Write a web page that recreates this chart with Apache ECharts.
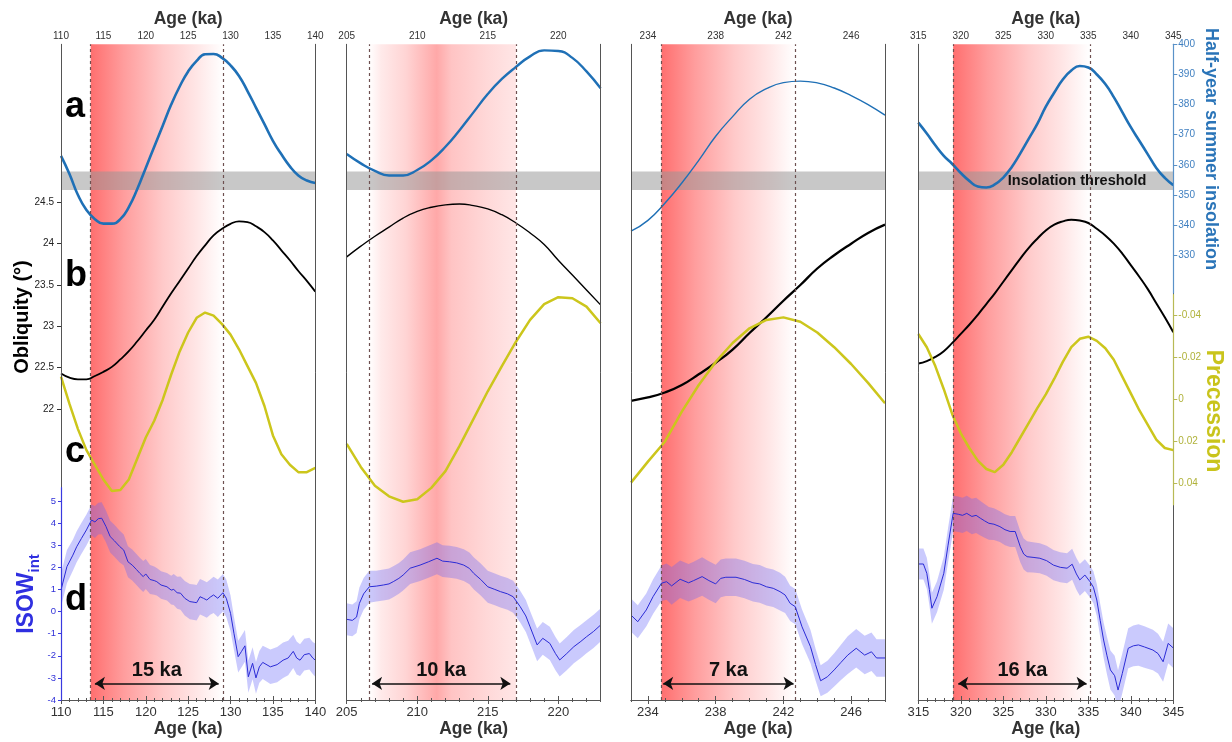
<!DOCTYPE html>
<html><head><meta charset="utf-8">
<script src="https://cdn.jsdelivr.net/npm/echarts@6/dist/echarts.min.js"></script>
<style>html,body{margin:0;padding:0;background:#fff}#c{width:1232px;height:742px}</style>
</head><body><div id="c"></div>
<script>
// ---------------- DATA ----------------
const ageRanges = [[110,140],[205,223],[233,248],[315,345]];
const ageTickLabels = [[110,115,120,125,130,135,140],[205,210,215,220],[234,238,242,246],[315,320,325,330,335,340,345]];

// orbital curves (ages in ka)
const orbAges1 = [110,111,112,113,114,115,116,117,118,119,120,121,122,123,124,125,126,127,128,129,130,131,132,133,134,135,136,137,138,139,140];
const insol1 = [363,357,350,345,342,340.5,340.5,342,346,352,359,366,373,380,386,391,394.5,396.7,396.8,395.5,393,389.5,384.5,379,373.5,368,363.5,359.5,356.5,354.8,354];
const obliq1 = [22.43,22.38,22.36,22.36,22.40,22.45,22.51,22.6,22.7,22.82,22.95,23.08,23.24,23.4,23.55,23.7,23.85,23.98,24.1,24.18,24.24,24.27,24.26,24.21,24.14,24.04,23.92,23.8,23.67,23.55,23.42];
const prec1 = [-0.011,0.002,0.014,0.024,0.031,0.038,0.0435,0.043,0.038,0.028,0.018,0.010,0.000,-0.012,-0.023,-0.032,-0.039,-0.0415,-0.040,-0.036,-0.031,-0.024,-0.016,-0.008,0.003,0.017,0.026,0.031,0.0345,0.0345,0.0325];

const orbAges2 = [205,206,207,208,209,210,211,212,213,214,215,216,217,218,219,220,221,222,223];
const insol2 = [363.6,360.5,358,356.5,356.5,358.3,361.5,366,371.5,377.5,383.5,388.5,392.5,396,398,397.8,395.5,391,385.4];
const obliq2 = [23.84,23.97,24.09,24.2,24.31,24.39,24.44,24.47,24.48,24.46,24.42,24.35,24.25,24.13,23.99,23.8,23.62,23.44,23.26];
const prec2 = [0.021,0.032,0.041,0.046,0.0486,0.0474,0.042,0.034,0.022,0.009,-0.004,-0.016,-0.0276,-0.038,-0.0455,-0.0488,-0.0483,-0.0443,-0.0364];

const orbAges3 = [233,234,235,236,237,238,239,240,241,242,243,244,245,246,247,248];
const insol3 = [338,341.6,347.3,354,361.5,369.5,376,381.8,385.3,387.3,387.8,387.2,385.5,383,380,376.5];
const obliq3 = [22.1,22.14,22.2,22.29,22.42,22.56,22.72,22.92,23.11,23.31,23.5,23.7,23.86,24.0,24.13,24.23];
const prec3 = [0.0395,0.0295,0.020,0.0057,-0.007,-0.018,-0.027,-0.034,-0.038,-0.0392,-0.0371,-0.032,-0.025,-0.017,-0.008,0.0017];

const orbAges4 = [315,316,317,318,319,320,321,322,323,324,325,326,327,328,329,330,331,332,333,334,335,336,337,338,339,340,341,342,343,344,345];
const insol4 = [374,370.4,366.5,363,360.3,357.3,354.7,352.8,352.5,353.5,355.8,359.3,363.8,368.7,373.6,379.3,384,388.3,391.3,392.8,392.3,390,386.8,382.5,377.5,372.5,368,363.5,359,355.7,353.3];
const obliq4 = [22.55,22.58,22.63,22.7,22.8,22.91,23.02,23.14,23.27,23.4,23.54,23.68,23.82,23.95,24.06,24.16,24.23,24.27,24.29,24.28,24.25,24.18,24.1,24.0,23.88,23.74,23.6,23.45,23.28,23.11,22.93];
const prec4 = [-0.0313,-0.025,-0.016,-0.005,0.007,0.016,0.023,0.029,0.033,0.0345,0.031,0.025,0.018,0.011,0.004,-0.0025,-0.01,-0.018,-0.025,-0.029,-0.03,-0.028,-0.0245,-0.019,-0.011,-0.003,0.005,0.012,0.019,0.023,0.024];

// ISOW_int records with uncertainty half-width
const isoAges1 = [110,110.7,111.4,111.85,112.4,113.0,113.6,114.0,114.4,114.8,115.3,115.8,116.3,116.9,117.4,117.9,118.4,118.9,119.3,119.7,120.0,120.5,121.0,121.3,121.8,122.5,123.0,123.3,123.7,124.1,124.6,125.2,125.7,126.0,126.4,126.8,127.2,127.6,128.0,128.5,129.1,129.5,130.0,130.4,130.9,131.3,131.7,132.1,132.6,133.0,133.4,133.8,134.7,135.5,136.2,136.8,137.4,137.8,138.2,138.7,139.3,139.7,140];
const isoVals1 = [0.97,2.03,2.55,2.93,3.3,3.69,4.14,4.05,4.2,4.22,3.85,3.39,3.2,2.95,2.78,2.25,2.1,1.9,1.73,1.58,1.7,1.45,1.4,1.35,1.2,1.12,0.97,1.0,0.85,0.83,0.6,0.45,0.42,0.4,0.67,0.6,0.52,0.65,0.75,0.6,0.85,0.6,-0.08,-0.98,-2.04,-1.8,-1.55,-2.95,-2.34,-3.0,-2.5,-2.3,-2.5,-2.4,-2.2,-2.1,-1.8,-2.1,-2.2,-1.95,-1.9,-2.1,-2.2];
const isoErr1 = [0.75,0.75,0.7,0.7,0.7,0.7,0.7,0.72,0.72,0.72,0.72,0.72,0.72,0.72,0.7,0.7,0.7,0.7,0.7,0.7,0.68,0.66,0.64,0.62,0.62,0.62,0.65,0.7,0.72,0.75,0.78,0.8,0.8,0.8,0.8,0.8,0.8,0.8,0.82,0.85,0.85,0.85,0.8,0.75,0.72,0.72,0.72,0.72,0.72,0.72,0.72,0.75,0.78,0.8,0.8,0.78,0.75,0.75,0.72,0.72,0.72,0.72,0.75];

const isoAges2 = [205,205.4,205.7,205.9,206.2,206.6,207.1,207.6,208.0,208.3,208.7,209.0,209.5,210.2,210.8,211.4,211.8,212.3,212.8,213.3,213.7,214.0,214.5,215.0,215.5,215.9,216.4,216.8,217.3,217.7,218.0,218.5,218.9,219.4,219.8,220.1,220.6,221.1,221.6,222.0,222.5,223];
const isoVals2 = [-0.35,-0.4,-0.25,0.37,0.8,1.12,1.15,1.2,1.25,1.35,1.5,1.65,1.96,2.1,2.25,2.41,2.28,2.25,2.2,2.1,1.95,1.73,1.45,1.12,1.0,0.9,0.8,0.67,0.22,-0.2,-0.69,-1.51,-1.21,-1.44,-1.9,-2.19,-1.9,-1.59,-1.35,-1.14,-0.9,-0.61];
const isoErr2 = [0.72,0.72,0.72,0.72,0.72,0.72,0.7,0.7,0.7,0.7,0.7,0.7,0.72,0.72,0.72,0.72,0.72,0.72,0.72,0.72,0.72,0.72,0.72,0.72,0.72,0.72,0.72,0.72,0.72,0.72,0.72,0.74,0.74,0.75,0.75,0.75,0.75,0.75,0.75,0.75,0.75,0.75];

const isoAges3 = [233,233.4,233.9,234.3,234.8,235.1,235.4,235.9,236.4,236.7,237.2,237.6,238.0,238.3,238.6,239.2,239.7,240.2,240.6,241.0,241.4,241.8,242.1,242.4,242.7,243.1,243.6,243.9,244.2,244.6,245.0,245.4,245.8,246.3,246.8,247.2,247.5,248];
const isoVals3 = [-0.16,-0.46,0.07,0.67,1.28,1.35,1.16,1.46,1.3,1.4,1.58,1.4,1.25,1.5,1.55,1.55,1.45,1.3,1.25,1.12,1.05,0.9,0.75,0.37,0.22,-0.69,-1.59,-2.4,-3.13,-2.95,-2.64,-2.3,-1.97,-1.66,-1.97,-1.82,-2.1,-2.1];
const isoErr3 = [0.75,0.75,0.75,0.78,0.8,0.82,0.85,0.85,0.85,0.85,0.87,0.87,0.87,0.85,0.85,0.85,0.85,0.85,0.85,0.85,0.85,0.85,0.82,0.8,0.8,0.78,0.75,0.72,0.7,0.72,0.75,0.8,0.85,0.87,0.87,0.87,0.85,0.85];

const isoAges4 = [315,315.6,316.0,316.3,316.6,317.2,317.6,318.0,318.5,319.1,319.7,320.2,320.7,321.3,321.8,322.3,322.8,323.3,323.9,324.6,325.2,325.8,326.4,327.0,327.4,327.8,328.5,329.3,330.1,330.9,331.7,332.5,333.1,333.6,334.0,334.6,335.2,335.6,336.0,336.4,336.8,337.2,337.6,338.1,338.5,339.0,339.7,340.3,340.9,341.6,342.6,343.2,343.8,344.4,345];
const isoVals4 = [2.15,2.15,1.73,1.0,0.15,0.67,1.2,1.73,3.0,4.44,4.4,4.35,4.44,4.3,4.35,4.22,4.1,3.99,3.95,3.84,3.7,3.62,3.62,2.93,2.6,2.48,2.45,2.41,2.3,2.1,2.0,1.96,2.14,1.7,1.43,1.65,1.35,1.1,0.52,-0.4,-1.29,-2.0,-2.64,-2.9,-3.55,-2.8,-1.66,-1.55,-1.51,-1.6,-1.74,-1.9,-2.27,-1.44,-1.65];
const isoErr4 = [0.7,0.7,0.7,0.7,0.7,0.7,0.72,0.75,0.78,0.8,0.8,0.8,0.8,0.8,0.8,0.78,0.76,0.74,0.72,0.7,0.7,0.7,0.7,0.7,0.7,0.7,0.68,0.68,0.68,0.68,0.68,0.68,0.7,0.72,0.72,0.72,0.72,0.72,0.72,0.75,0.8,0.85,0.88,0.9,0.9,0.9,0.9,0.92,0.94,0.94,0.92,0.9,0.9,0.9,0.9];

// warm-period boundaries (dashed lines), duration arrows, labels
const warmStart = [113.5, 206.6, 234.8, 319.1];
const warmEnd   = [129.1, 217.0, 242.7, 335.2];
const arrowStart = [114.0, 206.8, 234.9, 319.7];
const arrowEnd   = [128.6, 216.6, 242.6, 334.8];
const durationLabels = ['15 ka','10 ka','7 ka','16 ka'];
const insolThreshold = [351.7, 357.8];
const insolTicks = [330,340,350,360,370,380,390,400];
const obliqTicks = [22,22.5,23,23.5,24,24.5];
const precTicks = [-0.04,-0.02,0,0.02,0.04];
const isoTicks = [-4,-3,-2,-1,0,1,2,3,4,5];

// ---------------- LAYOUT / STYLE ----------------
const FONT = '"Liberation Sans", Arial, Helvetica, sans-serif';
const PANEL_X = [{left:61,width:254.3},{left:346.7,width:253.9},{left:631,width:254},{left:918.3,width:255}];
const FRAME = {top:44.3, height:655.7};
const LAYERS = {
  ins:{top:44.3, height:248.7, min:317.5, max:400},
  obl:{top:161, height:289.4, min:21.5, max:25},
  pre:{top:294.7, height:210, min:-0.05, max:0.05},
  iso:{top:487.7, height:212.3, min:-4, max:5.6}
};
const ARROW_Y = -3.25;
const BLUE = '#1f70b6', YEL = '#ccc61c', ISO = '#2b2bd6';
const insolW = [2.6,2.4,1.4,2.6], obliqW = [1.8,1.4,2.3,2.0];

const orb = [
  {ages:orbAges1, ins:insol1, obl:obliq1, pre:prec1},
  {ages:orbAges2, ins:insol2, obl:obliq2, pre:prec2},
  {ages:orbAges3, ins:insol3, obl:obliq3, pre:prec3},
  {ages:orbAges4, ins:insol4, obl:obliq4, pre:prec4}
];
const iso = [
  {ages:isoAges1, vals:isoVals1, err:isoErr1},
  {ages:isoAges2, vals:isoVals2, err:isoErr2},
  {ages:isoAges3, vals:isoVals3, err:isoErr3},
  {ages:isoAges4, vals:isoVals4, err:isoErr4}
];
const redGrad = {type:'linear',x:0,y:0,x2:1,y2:0,colorStops:[
  {offset:0,color:'#ff6f6f'},{offset:0.25,color:'#ff9d9d'},{offset:0.55,color:'#ffcaca'},{offset:0.8,color:'#ffe6e6'},{offset:1,color:'#ffffff'}]};
const midGrad = {type:'linear',x:0,y:0,x2:1,y2:0,colorStops:[
  {offset:0,color:'#ffffff'},{offset:0.08,color:'#ffeaea'},{offset:0.25,color:'#ffd4d4'},{offset:0.46,color:'#ffa8a8'},{offset:0.56,color:'#ffc4c4'},{offset:0.8,color:'#ffd8d8'},{offset:1,color:'#ffe6e6'}]};
const grads = [redGrad, midGrad, redGrad, redGrad];

const zip = (a,b) => a.map((v,i)=>[v,b[i]]);

const grid=[], xAxis=[], yAxis=[], series=[];
const noAxis = {show:false};

ageRanges.forEach(([lo,hi],p)=>{
  const P = PANEL_X[p];
  const g0 = grid.length;
  grid.push({left:P.left,width:P.width,top:FRAME.top,height:FRAME.height,outerBoundsMode:'none',containLabel:false});
  const layerKeys = ['ins','obl','pre','iso'];
  layerKeys.forEach(k=>grid.push({left:P.left,width:P.width,top:LAYERS[k].top,height:LAYERS[k].height,outerBoundsMode:'none',containLabel:false}));
  const minor=[]; for(let a=Math.ceil(lo);a<=hi;a++) minor.push(a);

  const xTop = xAxis.length;
  const common = {gridIndex:g0,type:'value',min:lo,max:hi,z:8,splitLine:{show:false}};
  xAxis.push(Object.assign({},common,{position:'top',
    axisLine:{show:true,lineStyle:{color:'#555',width:1}},
    axisTick:{show:true,length:4,lineStyle:{color:'#555'},customValues:ageTickLabels[p]},
    axisLabel:{show:true,customValues:ageTickLabels[p],fontSize:10,color:'#333',margin:3,fontFamily:FONT},
    name:'Age (ka)',nameLocation:'middle',nameGap:16,nameMoveOverlap:false,
    nameTextStyle:{fontSize:17.5,fontWeight:'bold',color:'#333',fontFamily:FONT}}));
  xAxis.push(Object.assign({},common,{position:'top',axisLine:{show:false},
    axisTick:{show:true,length:2,lineStyle:{color:'#555'},customValues:minor},axisLabel:{show:false}}));
  xAxis.push(Object.assign({},common,{position:'bottom',
    axisLine:{show:true,lineStyle:{color:'#555',width:1}},
    axisTick:{show:true,length:4,lineStyle:{color:'#555'},customValues:ageTickLabels[p]},
    axisLabel:{show:true,customValues:ageTickLabels[p],fontSize:13,color:'#333',margin:6,fontFamily:FONT},
    name:'Age (ka)',nameLocation:'middle',nameGap:20,nameMoveOverlap:false,
    nameTextStyle:{fontSize:17.5,fontWeight:'bold',color:'#333',fontFamily:FONT}}));
  xAxis.push(Object.assign({},common,{position:'bottom',axisLine:{show:false},
    axisTick:{show:true,length:2,lineStyle:{color:'#555'},customValues:minor},axisLabel:{show:false}}));
  const xL = {};
  layerKeys.forEach((k,j)=>{ xL[k]=xAxis.length; xAxis.push({gridIndex:g0+1+j,type:'value',min:lo,max:hi,show:false}); });

  const yFrame = yAxis.length;
  yAxis.push({gridIndex:g0,type:'value',min:0,max:1,position:'left',z:8,axisLine:{show:true,lineStyle:{color:'#555'}},axisTick:{show:false},axisLabel:{show:false},splitLine:{show:false}});
  yAxis.push({gridIndex:g0,type:'value',min:0,max:1,position:'right',z:8,axisLine:{show:true,lineStyle:{color:'#555'}},axisTick:{show:false},axisLabel:{show:false},splitLine:{show:false}});
  const yL = {};
  // insolation (right, last panel)
  yL.ins = yAxis.length;
  yAxis.push(p===3 ? {gridIndex:g0+1,type:'value',min:LAYERS.ins.min,max:LAYERS.ins.max,position:'right',z:9,
      axisLine:{show:true,lineStyle:{color:'#5a92c8',width:1.2}},
      axisTick:{show:true,length:4,lineStyle:{color:'#5a92c8'},customValues:insolTicks},
      axisLabel:{show:true,customValues:insolTicks,color:'#3f7fc0',fontSize:10,margin:5,fontFamily:FONT},splitLine:{show:false}}
    : {gridIndex:g0+1,type:'value',min:LAYERS.ins.min,max:LAYERS.ins.max,show:false,splitLine:{show:false}});
  // obliquity (left, first panel)
  yL.obl = yAxis.length;
  yAxis.push(p===0 ? {gridIndex:g0+2,type:'value',min:LAYERS.obl.min,max:LAYERS.obl.max,position:'left',z:9,
      axisLine:{show:false},
      axisTick:{show:true,length:4,lineStyle:{color:'#333'},customValues:obliqTicks},
      axisLabel:{show:true,customValues:obliqTicks,color:'#222',fontSize:10,margin:7,fontFamily:FONT},splitLine:{show:false}}
    : {gridIndex:g0+2,type:'value',min:LAYERS.obl.min,max:LAYERS.obl.max,show:false,splitLine:{show:false}});
  // precession (right, last panel, inverted)
  yL.pre = yAxis.length;
  yAxis.push(p===3 ? {gridIndex:g0+3,type:'value',min:LAYERS.pre.min,max:LAYERS.pre.max,inverse:true,position:'right',z:9,
      axisLine:{show:true,lineStyle:{color:'#b8ba55',width:1.2}},
      axisTick:{show:true,length:4,lineStyle:{color:'#b8ba55'},customValues:precTicks},
      axisLabel:{show:true,customValues:precTicks,color:'#b0b23a',fontSize:10,margin:5,fontFamily:FONT,
        formatter:v=>Math.abs(v)<1e-9?'0':(+v).toFixed(2)},splitLine:{show:false}}
    : {gridIndex:g0+3,type:'value',min:LAYERS.pre.min,max:LAYERS.pre.max,inverse:true,show:false,splitLine:{show:false}});
  // ISOW (left, first panel)
  yL.iso = yAxis.length;
  yAxis.push(p===0 ? {gridIndex:g0+4,type:'value',min:LAYERS.iso.min,max:LAYERS.iso.max,position:'left',z:9,
      axisLine:{show:true,lineStyle:{color:'#3a3ae0',width:1.2}},
      axisTick:{show:true,length:3,lineStyle:{color:'#3a3ae0'},customValues:isoTicks},
      axisLabel:{show:true,customValues:isoTicks,color:'#3030d8',fontSize:9.5,margin:5,fontFamily:FONT},splitLine:{show:false}}
    : {gridIndex:g0+4,type:'value',min:LAYERS.iso.min,max:LAYERS.iso.max,show:false,splitLine:{show:false}});

  // warm-period shading
  series.push({type:'line',xAxisIndex:xTop,yAxisIndex:yFrame,data:[],silent:true,z:1,
    markArea:{silent:true,itemStyle:{color:grads[p]},data:[[{xAxis:warmStart[p]},{xAxis:warmEnd[p]}]]}});
  // insolation threshold band
  series.push({type:'line',xAxisIndex:xL.ins,yAxisIndex:yL.ins,data:[],silent:true,z:2,
    markArea:{silent:true,itemStyle:{color:'rgba(150,150,150,0.52)'},
      label: p===3 ? {show:true,position:'insideRight',distance:27,formatter:'Insolation threshold',fontSize:14.5,fontWeight:'bold',color:'#111',fontFamily:FONT} : {show:false},
      data:[[{yAxis:insolThreshold[0]},{yAxis:insolThreshold[1]}]]}});
  // ISOW uncertainty band
  const I = iso[p];
  series.push({type:'custom',xAxisIndex:xL.iso,yAxisIndex:yL.iso,clip:true,silent:true,z:3,
    data:I.ages.map((a,i)=>[a, I.vals[i]-I.err[i], I.vals[i]+I.err[i]]),
    renderItem:(params,api)=>{
      if(params.dataIndex!==0) return null;
      const up=[],dn=[];
      for(let i=0;i<I.ages.length;i++){
        up.push(api.coord([I.ages[i], I.vals[i]+I.err[i]]));
        dn.push(api.coord([I.ages[i], I.vals[i]-I.err[i]]));
      }
      return {type:'polygon',shape:{points:up.concat(dn.reverse())},style:{fill:'rgba(100,100,250,0.34)'}};
    }});
  // orbital curves
  const O = orb[p];
  series.push({type:'line',xAxisIndex:xL.ins,yAxisIndex:yL.ins,data:zip(O.ages,O.ins),smooth:true,showSymbol:false,symbol:'none',z:4,
    lineStyle:{color:BLUE,width:insolW[p]}});
  series.push({type:'line',xAxisIndex:xL.obl,yAxisIndex:yL.obl,data:zip(O.ages,O.obl),smooth:true,showSymbol:false,symbol:'none',z:4,
    lineStyle:{color:'#000',width:obliqW[p]}});
  series.push({type:'line',xAxisIndex:xL.pre,yAxisIndex:yL.pre,data:zip(O.ages,O.pre),smooth:false,showSymbol:false,symbol:'none',z:4,
    lineStyle:{color:YEL,width:2.5}});
  // ISOW mean + duration arrow
  series.push({type:'line',xAxisIndex:xL.iso,yAxisIndex:yL.iso,data:zip(I.ages,I.vals),showSymbol:false,symbol:'none',z:5,
    lineStyle:{color:ISO,width:1},
    markLine:{silent:true,symbol:['arrow','arrow'],symbolSize:10,
      lineStyle:{color:'#111',width:1.5,type:'solid'},
      label:{show:true,position:'insideMiddleTop',distance:3,formatter:durationLabels[p],fontSize:20,fontWeight:'bold',color:'#111',fontFamily:FONT},
      data:[[{coord:[arrowStart[p],ARROW_Y]},{coord:[arrowEnd[p],ARROW_Y]}]]}});
  // dashed boundaries
  series.push({type:'line',xAxisIndex:xTop,yAxisIndex:yFrame,data:[],silent:true,z:6,
    markLine:{silent:true,symbol:['none','none'],label:{show:false},
      lineStyle:{type:[3,3],color:'#6e5050',width:1.2},
      data:[{xAxis:warmStart[p]},{xAxis:warmEnd[p]}]}});
});

const txt = (x,y,text,extra) => ({type:'text',x,y,z:20,style:Object.assign({text,fontFamily:FONT,fontWeight:'bold',align:'center',verticalAlign:'middle'},extra.style||{}),rotation:extra.rotation||0});
const graphic = [
  txt(65,107,'a',{style:{fontSize:36,fill:'#000',align:'left'}}),
  txt(65,276,'b',{style:{fontSize:36,fill:'#000',align:'left'}}),
  txt(65,452,'c',{style:{fontSize:36,fill:'#000',align:'left'}}),
  txt(65,600,'d',{style:{fontSize:36,fill:'#000',align:'left'}}),
  txt(22,317,'Obliquity (°)',{rotation:Math.PI/2,style:{fontSize:20,fill:'#000'}}),
  txt(1211,149,'Half-year summer insolation',{rotation:-Math.PI/2,style:{fontSize:18,fill:'#2a74b8'}}),
  txt(1213,411,'Precession',{rotation:-Math.PI/2,style:{fontSize:23,fill:'#c9c41c'}}),
  {type:'text',x:27,y:594,z:20,rotation:Math.PI/2,style:{
    text:'{a|ISOW}{b|int}',align:'center',verticalAlign:'middle',fontFamily:FONT,
    rich:{a:{fontSize:23,fontWeight:'bold',fill:'#2f2fe0',lineHeight:23,verticalAlign:'top',fontFamily:FONT},
          b:{fontSize:15,fontWeight:'bold',fill:'#2f2fe0',lineHeight:15,padding:[12,0,0,0],verticalAlign:'top',fontFamily:FONT}}}}
];

const chart = echarts.init(document.getElementById('c'),null,{renderer:'canvas'});
chart.setOption({animation:false,backgroundColor:'#fff',textStyle:{fontFamily:FONT},grid,xAxis,yAxis,series,graphic});
</script></body></html>
